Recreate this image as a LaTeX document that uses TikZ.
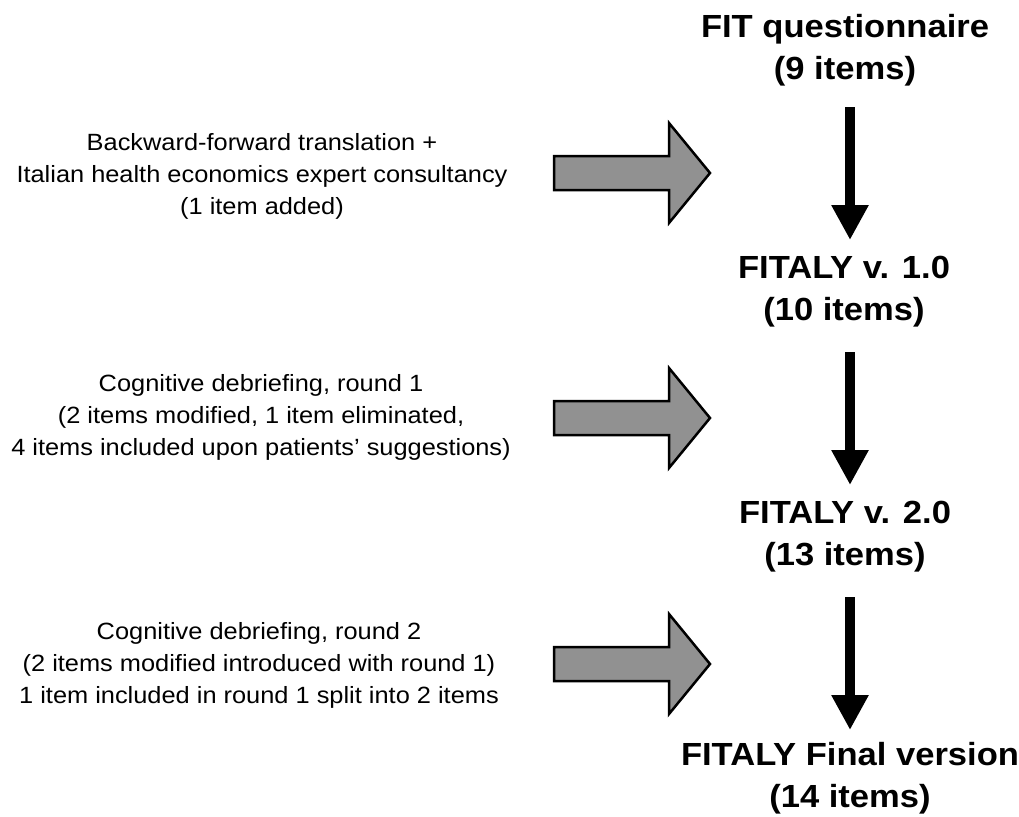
\documentclass[tikz,border=0pt]{standalone}
\usepackage{fontspec}
\setmainfont{Liberation Sans}[FakeStretch=1.08]
\usetikzlibrary{arrows.meta}
\begin{document}
\begin{tikzpicture}[x=1pt,y=-1pt,
  title/.style={align=center,font=\fontsize{32}{42}\selectfont\bfseries,inner sep=0pt},
  desc/.style={align=center,font=\fontsize{23.5}{32}\selectfont,inner sep=0pt},
  blk/.style={line width=10pt,-{Triangle[width=35pt,length=35pt]}},
  grayarrow/.style={draw=black,line width=2.5pt,fill=black!43,line join=miter}]
\useasboundingbox (0,0) rectangle (1019,816);
\node[title] (t1) at (845,50) {FIT questionnaire\\(9 items)};
\node[title] (t2) at (844,292) {FITALY v. 1.0\\(10 items)};
\node[title] (t3) at (845,537) {FITALY v. 2.0\\(13 items)};
\node[title] (t4) at (850,778) {FITALY Final version\\(14 items)};
\node[desc] (d1) at (262,176) {Backward-forward translation +\\Italian health economics expert consultancy\\(1 item added)};
\node[desc] (d2) at (261,417) {Cognitive debriefing, round 1\\(2 items modified, 1 item eliminated,\\4 items included upon patients’ suggestions)};
\node[desc] (d3) at (259,665) {Cognitive debriefing, round 2\\(2 items modified introduced with round 1)\\1 item included in round 1 split into 2 items};
\coordinate (a1s) at (850,107); \coordinate (a1e) at (850,240);
\coordinate (a2s) at (850,352); \coordinate (a2e) at (850,485);
\coordinate (a3s) at (850,597); \coordinate (a3e) at (850,730);
\draw[blk] (a1s) -- (a1e);
\draw[blk] (a2s) -- (a2e);
\draw[blk] (a3s) -- (a3e);
\foreach \n/\cy in {g1/173,g2/418,g3/664}{
  \coordinate (\n) at (554,\cy);
  \draw[grayarrow] (\n) ++(0,-17) -- ++(115,0) -- ++(0,-33) -- ++(41,50) -- ++(-41,50) -- ++(0,-33) -- ++(-115,0) -- cycle;
}
\end{tikzpicture}
\end{document}
